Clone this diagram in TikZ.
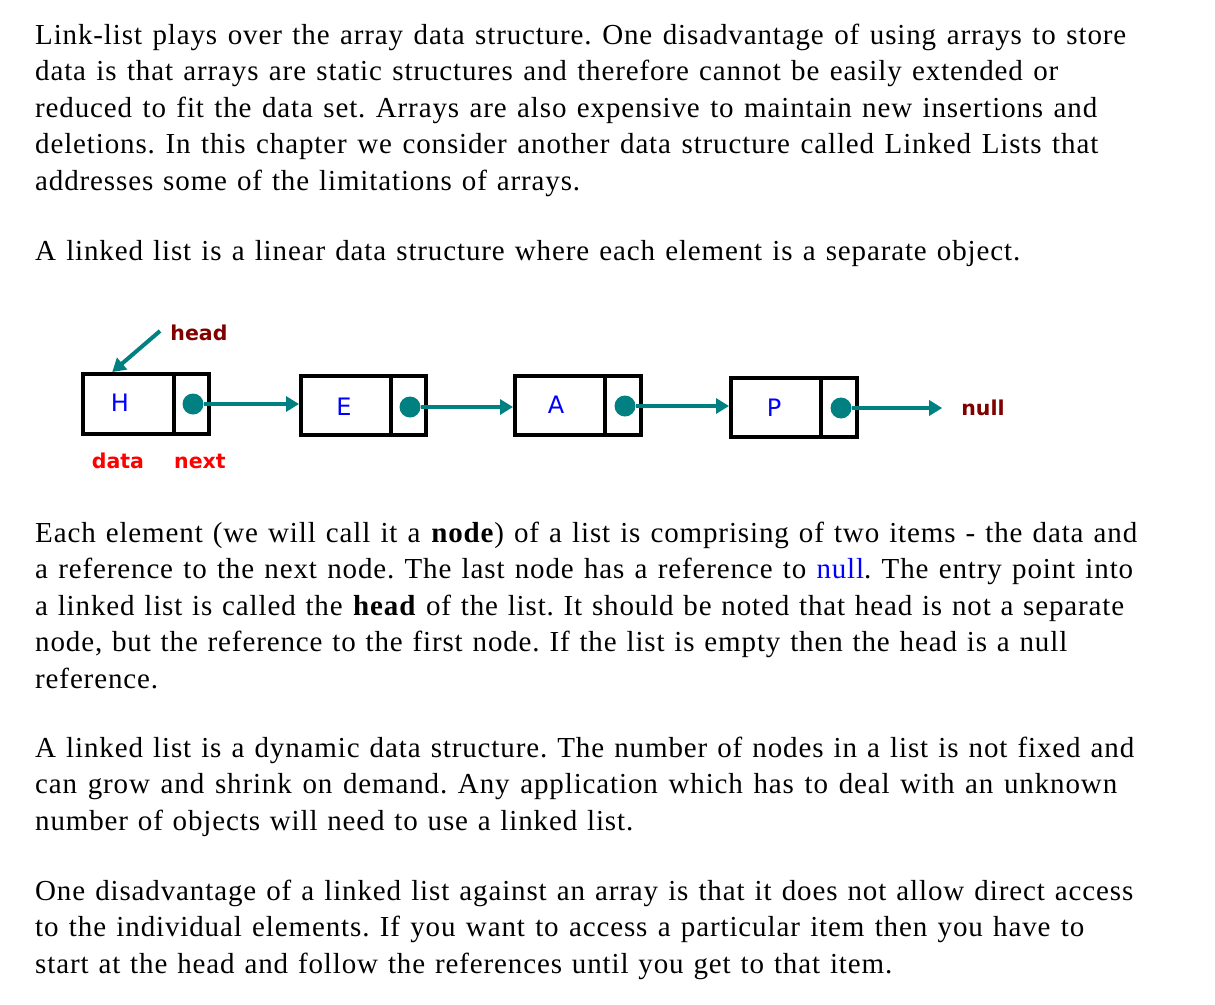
\documentclass[tikz,border=0pt]{standalone}
\usepackage{fontspec}
\setmainfont{Liberation Serif}[LetterSpace=3]
\newfontfamily\djsans{DejaVu Sans}
\usetikzlibrary{arrows.meta}
\definecolor{tealc}{HTML}{008080}
\definecolor{darkred}{HTML}{800000}
\definecolor{lblue}{HTML}{0000FF}
\definecolor{lred}{HTML}{FF0000}
\frenchspacing
\newcommand{\tline}[4]{\node[txt] (#1) at (35,#2) {\makebox[#3pt][s]{#4}};}
\tikzset{
  txt/.style={anchor=base west, inner sep=0pt, font=\fontsize{29}{34}\selectfont},
  part/.style={draw, line width=4pt, inner sep=0pt},
  letter/.style={inner sep=0pt, text=lblue, font=\djsans\fontsize{24}{24}\selectfont},
  dot/.style={circle, fill=tealc, inner sep=0pt, minimum size=21pt},
  link/.style={draw=tealc, line width=3.2pt, -{Triangle[length=13pt,width=15pt]}},
  lbl/.style={inner sep=0pt, font=\djsans\bfseries\fontsize{20.5}{20.5}\selectfont}
}
\begin{document}
\begin{tikzpicture}[x=1pt,y=-1pt]
\fill[white] (0,0) rectangle (1215,1004);
\path[use as bounding box] (0,0) rectangle (1215,1004);
% paragraph 1
\tline{p1a}{44}{1091}{Link-list plays over the array data structure. One disadvantage of using arrays to store}
\tline{p1b}{80.5}{1023}{data is that arrays are static structures and therefore cannot be easily extended or}
\tline{p1c}{117}{1062}{reduced to fit the data set. Arrays are also expensive to maintain new insertions and}
\tline{p1d}{153.5}{1063}{deletions. In this chapter we consider another data structure called Linked Lists that}
\tline{p1e}{190}{545}{addresses some of the limitations of arrays.}
% paragraph 2
\tline{p2a}{260}{985}{A linked list is a linear data structure where each element is a separate object.}
% paragraph 3
\tline{p3a}{542}{1102}{Each element (we will call it a \textbf{node}) of a list is comprising of two items - the data and}
\tline{p3b}{578.5}{1098}{a reference to the next node. The last node has a reference to \textcolor{lblue}{null}. The entry point into}
\tline{p3c}{615}{1089}{a linked list is called the \textbf{head} of the list. It should be noted that head is not a separate}
\tline{p3d}{651.5}{1032}{node, but the reference to the first node. If the list is empty then the head is a null}
\tline{p3e}{688}{122}{reference.}
% paragraph 4
\tline{p4a}{757}{1099}{A linked list is a dynamic data structure. The number of nodes in a list is not fixed and}
\tline{p4b}{793.5}{1082}{can grow and shrink on demand. Any application which has to deal with an unknown}
\tline{p4c}{830}{598}{number of objects will need to use a linked list.}
% paragraph 5
\tline{p5a}{900}{1098}{One disadvantage of a linked list against an array is that it does not allow direct access}
\tline{p5b}{936.5}{1049}{to the individual elements. If you want to access a particular item then you have to}
\tline{p5c}{973}{857}{start at the head and follow the references until you get to that item.}
% list nodes
\node[part, minimum width=90.5pt, minimum height=60pt] (d1) at (128.25,404) {};
\node[part, minimum width=35.5pt, minimum height=60pt] (n1) at (191.25,404) {};
\node[part, minimum width=90pt, minimum height=59pt] (d2) at (346,405.5) {};
\node[part, minimum width=35pt, minimum height=59pt] (n2) at (408.5,405.5) {};
\node[part, minimum width=90pt, minimum height=59pt] (d3) at (560,405.5) {};
\node[part, minimum width=36pt, minimum height=59pt] (n3) at (623,405.5) {};
\node[part, minimum width=90pt, minimum height=59pt] (d4) at (776,407.5) {};
\node[part, minimum width=36pt, minimum height=59pt] (n4) at (839,407.5) {};
\node[letter] (lH) at (120,403) {H};
\node[letter] (lE) at (344,407) {E};
\node[letter] (lA) at (556,405) {A};
\node[letter] (lP) at (774,408) {P};
\node[dot] (c1) at (193,404) {};
\node[dot] (c2) at (410,407) {};
\node[dot] (c3) at (625,406) {};
\node[dot] (c4) at (841,408) {};
\node[lbl, text=darkred] (null) at (983,408) {null};
\node[lbl, text=darkred] (headlbl) at (199,333) {head};
\node[lbl, text=lred] (datalbl) at (118,461) {data};
\node[lbl, text=lred] (nextlbl) at (200,461) {next};
\draw[link] (c1) -- (c1 -| d2.west);
\draw[link] (c2) -- (c2 -| d3.west);
\draw[link] (c3) -- (c3 -| d4.west);
\draw[link] (c4) -- ([xshift=-19pt]c4 -| null.west);
\coordinate (hs) at (160,331);
\draw[link, line width=4pt] (hs) -- ([xshift=-16pt]d1.north);
\end{tikzpicture}
\end{document}
